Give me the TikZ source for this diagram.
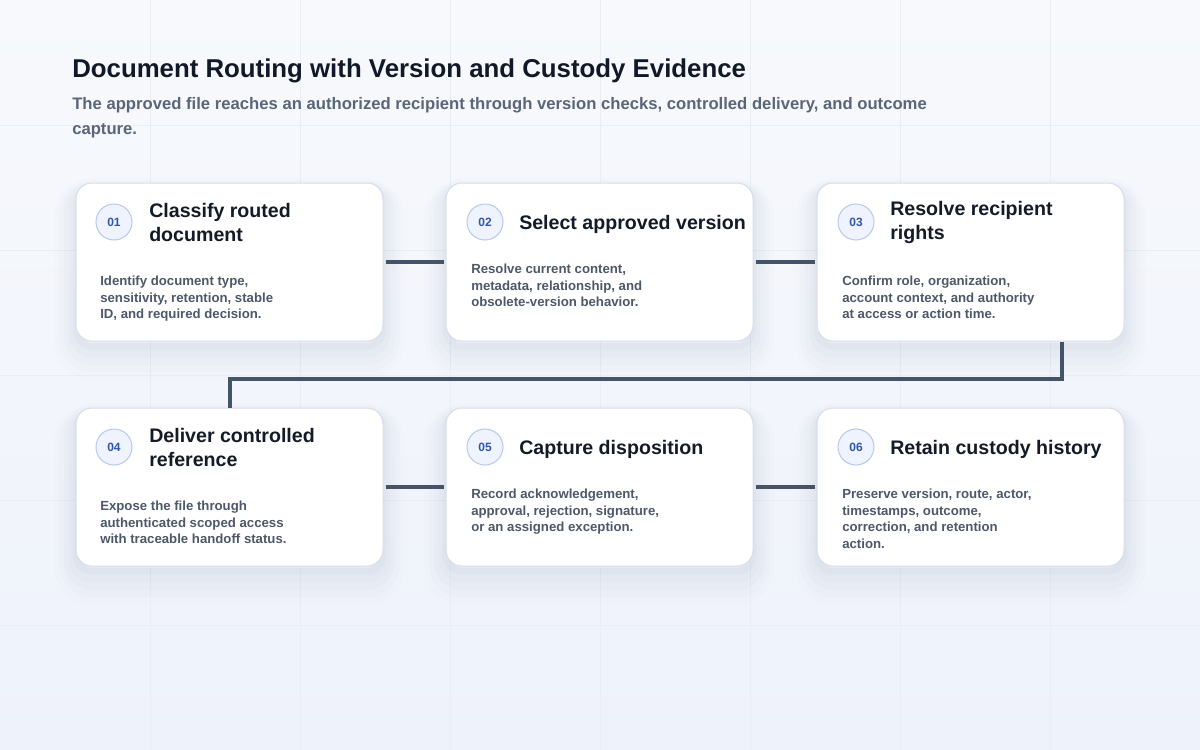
\documentclass[tikz,border=0pt]{standalone}
\usepackage{fontspec}
\setmainfont{Liberation Sans}
\usepackage{xcolor}

\definecolor{pagetop}{HTML}{F7F9FC}
\definecolor{pagebottom}{HTML}{EEF2FB}
\definecolor{gridink}{HTML}{E9EDF4}
\definecolor{cardedge}{HTML}{D6DDE9}
\definecolor{shadowink}{HTML}{4A5A80}
\definecolor{badgefill}{HTML}{EEF3FD}
\definecolor{badgeedge}{HTML}{B7C8E8}
\definecolor{badgeink}{HTML}{3157A8}
\definecolor{headink}{HTML}{111827}
\definecolor{subink}{HTML}{5B6578}
\definecolor{titleink}{HTML}{141A26}
\definecolor{bodyink}{HTML}{4E5868}
\definecolor{linkink}{HTML}{465265}

\tikzset{
  card/.style={draw=cardedge, line width=0.75pt, fill=white, rounded corners=12pt,
    minimum width=230.25pt, minimum height=118.5pt, inner sep=0pt,
    preaction={draw=shadowink, draw opacity=0.010, line width=32pt, transform canvas={yshift=-13pt}},
    preaction={draw=shadowink, draw opacity=0.014, line width=25pt, transform canvas={yshift=-11pt}},
    preaction={draw=shadowink, draw opacity=0.018, line width=18pt, transform canvas={yshift=-9pt}},
    preaction={draw=shadowink, draw opacity=0.022, line width=11pt, transform canvas={yshift=-7pt}},
    preaction={draw=shadowink, draw opacity=0.026, line width=5pt, transform canvas={yshift=-4pt}}},
  badge/.style={circle, draw=badgeedge, fill=badgefill, line width=0.75pt, minimum size=27pt,
    inner sep=0pt, text=badgeink, font=\bfseries\fontsize{9}{11}\selectfont},
  steptitle/.style={anchor=west, align=left, inner sep=0pt, text=titleink,
    font=\bfseries\fontsize{14.7}{18}\selectfont},
  stepbody/.style={anchor=north west, align=left, inner sep=0pt, text=bodyink,
    font=\bfseries\fontsize{9.9}{12.4}\selectfont},
  link/.style={draw=linkink, line width=3pt}
}

\begin{document}
\begin{tikzpicture}[x=0.75pt,y=0.75pt,yscale=-1,xscale=1]
\useasboundingbox (0,0) rectangle (1200,750);

% page background and faint grid
\shade[top color=pagetop, bottom color=pagebottom] (0,0) rectangle (1200,750);
\draw[gridink, line width=0.75pt, xstep=150, ystep=125] (0.01,0.01) grid (1199.9,749.9);

% heading
\node[anchor=base west, inner sep=0pt, text=headink, font=\bfseries\fontsize{19.35}{23}\selectfont] (heading) at (72,77) {Document Routing with Version and Custody Evidence};
\node[anchor=base west, align=left, inner sep=0pt, text=subink, font=\bfseries\fontsize{12.5}{18.75}\selectfont] (subheading) at (72,134.5) {The approved file reaches an authorized recipient through version checks, controlled delivery, and outcome\\capture.};

% cards, first row
\node[card] (c1) at (229.5,262) {};
\node[card] (c2) at (599.5,262) {};
\node[card] (c3) at (970.5,262) {};
% cards, second row
\node[card] (c4) at (229.5,487) {};
\node[card] (c5) at (599.5,487) {};
\node[card] (c6) at (970.5,487) {};

% connectors
\draw[link, shorten <=1.5pt, shorten >=1.5pt] (c1) -- (c2);
\draw[link, shorten <=1.5pt, shorten >=1.5pt] (c2) -- (c3);
\coordinate (bend) at (1062,379);
\draw[link] (c3.south -| bend) -- (bend) -| (c4.north);
\draw[link, shorten <=1.5pt, shorten >=1.5pt] (c4) -- (c5);
\draw[link, shorten <=1.5pt, shorten >=1.5pt] (c5) -- (c6);

% step 01
\node[badge] (b1) at (114,222) {01};
\node[steptitle] (t1) at (149,222) {Classify routed\\document};
\node[stepbody] (d1) at (100,276) {Identify document type,\\sensitivity, retention, stable\\ID, and required decision.};

% step 02
\node[badge] (b2) at (485,222) {02};
\node[steptitle] (t2) at (519,224) {Select approved version};
\node[stepbody] (d2) at (471,264) {Resolve current content,\\metadata, relationship, and\\obsolete-version behavior.};

% step 03
\node[badge] (b3) at (856,222) {03};
\node[steptitle] (t3) at (890,222) {Resolve recipient\\rights};
\node[stepbody] (d3) at (842,276) {Confirm role, organization,\\account context, and authority\\at access or action time.};

% step 04
\node[badge] (b4) at (114,447) {04};
\node[steptitle] (t4) at (149,447) {Deliver controlled\\reference};
\node[stepbody] (d4) at (100,501) {Expose the file through\\authenticated scoped access\\with traceable handoff status.};

% step 05
\node[badge] (b5) at (485,447) {05};
\node[steptitle] (t5) at (519,449) {Capture disposition};
\node[stepbody] (d5) at (471,489) {Record acknowledgement,\\approval, rejection, signature,\\or an assigned exception.};

% step 06
\node[badge] (b6) at (856,447) {06};
\node[steptitle] (t6) at (890,449) {Retain custody history};
\node[stepbody] (d6) at (842,489) {Preserve version, route, actor,\\timestamps, outcome,\\correction, and retention\\action.};

\end{tikzpicture}
\end{document}
